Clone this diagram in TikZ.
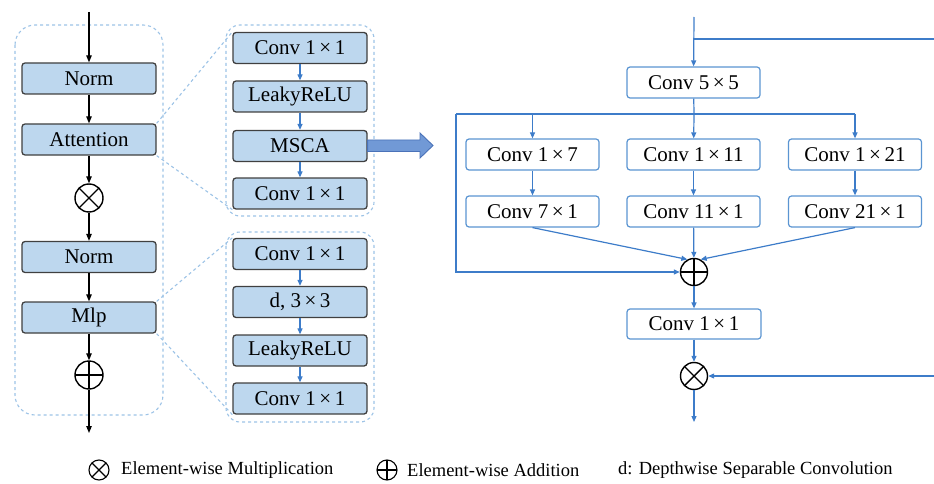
\documentclass[tikz,border=0pt]{standalone}
\usepackage{fontspec}
\setmainfont{Liberation Serif}
\usetikzlibrary{arrows.meta,calc}
\definecolor{boxfill}{HTML}{BDD7EE}
\definecolor{boxedge}{HTML}{404040}
\definecolor{dashblue}{HTML}{9DC3E6}
\definecolor{lineblue}{HTML}{3D7CC9}
\definecolor{rboxedge}{HTML}{5B95D2}
\definecolor{bigfill}{HTML}{7199D6}
\definecolor{bigedge}{HTML}{4A72B8}
\newcommand{\tms}{\hspace{3.5pt}×\hspace{3.5pt}}
\begin{document}
\begin{tikzpicture}[x=1pt,y=-1pt,
  every node/.style={font=\fontsize{21}{24}\selectfont},
  lbox/.style={draw=boxedge,fill=boxfill,rounded corners=3,line width=1.3,minimum width=134,minimum height=31,inner sep=0},
  rbox/.style={draw=rboxedge,fill=white,rounded corners=3,line width=1.2,minimum width=133,minimum height=31,inner sep=0},
  opcirc/.style={circle,draw=black,line width=1.4,minimum size=#1,inner sep=0},
  mulop/.style={opcirc=#1,path picture={\draw[line width=1.4] (path picture bounding box.north west)--(path picture bounding box.south east) (path picture bounding box.north east)--(path picture bounding box.south west);}},
  addop/.style={opcirc=#1,path picture={\draw[line width=1.4] (path picture bounding box.north)--(path picture bounding box.south) (path picture bounding box.east)--(path picture bounding box.west);}},
  container/.style={draw=dashblue,dashed,line width=1.1,rounded corners=#1},
  zoomline/.style={draw=dashblue,dashed,line width=1.1},
  karrow/.style={draw=black,line width=1.1,-{Triangle[length=7pt,width=5.5pt]}},
  barrow/.style={draw=lineblue,line width=1.2,-{Triangle[length=6pt,width=5pt]}},
  bline/.style={draw=lineblue,line width=1.2},
  legend/.style={font=\fontsize{18.5}{21}\selectfont,anchor=west,inner sep=0}
]
\useasboundingbox (0,0) rectangle (934,484);

% ---------- left column ----------
\draw[container=20] (15,25) rectangle (163,415);
\coordinate (lin) at (89,12);
\coordinate (lout) at (89,433);
\node[lbox] (n1) at (89,78.5) {Norm};
\node[lbox] (att) at (89,139.5) {Attention};
\node[mulop=28] (mul1) at (89,198) {};
\node[lbox] (n2) at (89,257) {Norm};
\node[lbox] (mlp) at (89,317.5) {Mlp};
\node[addop=28] (add1) at (89,375) {};
\draw[karrow] (lin) -- (n1);
\draw[karrow] (n1) -- (att);
\draw[karrow] (att) -- (mul1);
\draw[karrow] (mul1) -- (n2);
\draw[karrow] (n2) -- (mlp);
\draw[karrow] (mlp) -- (add1);
\draw[karrow] (add1) -- (lout);

% ---------- middle: attention detail ----------
\draw[container=14] (226,25) rectangle (374,216);
\node[lbox] (c1) at (300,48) {Conv 1\tms 1};
\node[lbox] (lr1) at (300,96.5) {LeakyReLU};
\node[lbox] (msca) at (300,146) {MSCA};
\node[lbox] (c2) at (300,193.5) {Conv 1\tms 1};
\draw[barrow] (c1) -- (lr1);
\draw[barrow] (lr1) -- (msca);
\draw[barrow] (msca) -- (c2);

% ---------- middle: mlp detail ----------
\draw[container=14] (226,232) rectangle (374,422);
\node[lbox] (c3) at (300,254) {Conv 1\tms 1};
\node[lbox] (d33) at (300,302) {d, 3\tms 3};
\node[lbox] (lr2) at (300,350.5) {LeakyReLU};
\node[lbox] (c4) at (300,398.5) {Conv 1\tms 1};
\draw[barrow] (c3) -- (d33);
\draw[barrow] (d33) -- (lr2);
\draw[barrow] (lr2) -- (c4);

% zoom lines
\draw[zoomline] (att.north east) -- (c1.north west);
\draw[zoomline] (att.south east) -- (c2.south west);
\draw[zoomline] (mlp.north east) -- (c3.north west);
\draw[zoomline] (mlp.south east) -- (c4.south west);

% big arrow
\draw[fill=bigfill,draw=bigedge,line width=0.9]
  ($(msca.east)+(0,-6)$) -- (420,140) -- (420,133) -- (433,145.5) -- (420,158) -- (420,151.5) -- ($(msca.east)+(0,5.5)$) -- cycle;

% ---------- right: MSCA ----------
\coordinate (rin) at (694,17);
\coordinate (rbr) at (694,39);
\coordinate (rbrend) at (934,39);
\coordinate (rret) at (934,376);
\coordinate (rout) at (694,422);
\node[rbox] (c55) at (693.5,82.5) {Conv 5\tms 5};
\coordinate (split) at (694,114);
\coordinate (sl) at (456,114);
\coordinate (sr) at (855,114);
\coordinate (sa) at (532.5,114);
\node[rbox] (k17) at (532.5,154.5) {Conv 1\tms 7};
\node[rbox] (k111) at (693.5,154.5) {Conv 1\tms 11};
\node[rbox] (k121) at (855,154.5) {Conv 1\tms 21};
\node[rbox] (k71) at (532.5,211.5) {Conv 7\tms 1};
\node[rbox] (k11b) at (693.5,211.5) {Conv 11\tms 1};
\node[rbox] (k21b) at (855,211.5) {Conv 21\tms 1};
\node[addop=27] (add2) at (694,272) {};
\node[rbox,minimum width=134,minimum height=30] (cr) at (694,324) {Conv 1\tms 1};
\node[mulop=27] (mul2) at (694,376) {};
\coordinate (byb) at (456,272);

\draw[barrow] (rin) -- (c55);
\draw[bline] (rbr) -- (rbrend);
\draw[bline] (c55) -- (split);
\draw[bline] (sl) -- (sr);
\draw[barrow] (sa) -- (k17);
\draw[barrow] (split) -- (k111);
\draw[barrow] (sr) -- (k121);
\draw[barrow] (k17) -- (k71);
\draw[barrow] (k111) -- (k11b);
\draw[barrow] (k121) -- (k21b);
\draw[barrow] (k71.south) -- (add2.118);
\draw[barrow] (k11b) -- (add2);
\draw[barrow] (k21b.south) -- (add2.62);
\draw[barrow] (sl) -- (byb) -- (add2.west);
\draw[barrow] (add2) -- (cr);
\draw[barrow] (cr) -- (mul2);
\draw[barrow] (rret) -- (mul2.east);
\draw[barrow] (mul2) -- (rout);

% ---------- legend ----------
\node[mulop=20,line width=1.1] (lgm) at (99,470) {};
\node[legend] (lgmt) at (121,470) {Element-wise Multiplication};
\node[addop=20,line width=1.1] (lga) at (387,470) {};
\node[legend] (lgat) at (407,470) {Element-wise Addition};
\node[legend] (lgdt) at (618,470) {d: Depthwise Separable Convolution};
\end{tikzpicture}
\end{document}
